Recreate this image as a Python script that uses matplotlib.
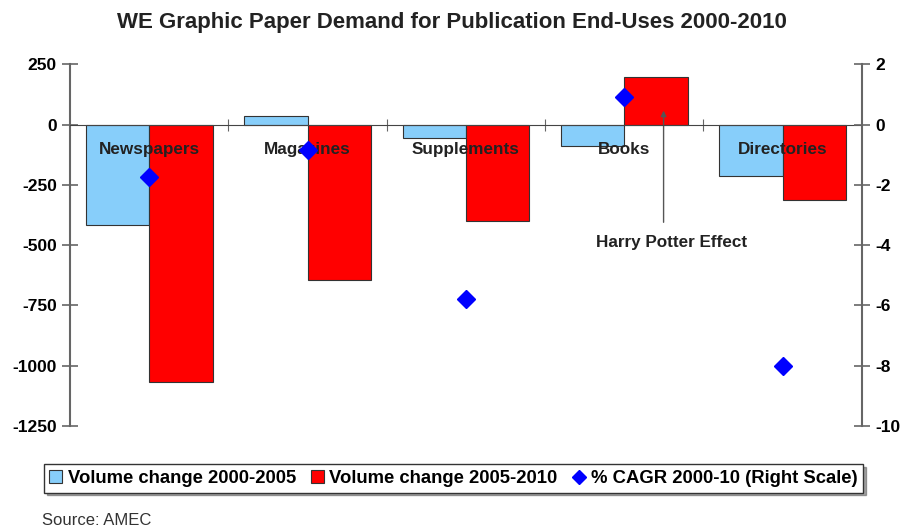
import numpy as np
import matplotlib.pyplot as plt

plt.rcParams['font.family'] = ['Liberation Sans', 'DejaVu Sans']

# datos
categorias = ['Newspapers', 'Magazines', 'Supplements', 'Books', 'Directories']
vol_2000_2005 = [-418, 34, -57, -90, -215]
vol_2005_2010 = [-1068, -643, -400, 198, -313]
cagr_2000_10 = [-1.73, -0.84, -5.8, 0.93, -8.0]
ticks_izq = [250, 0, -250, -500, -750, -1000, -1250]
ticks_der = [2, 0, -2, -4, -6, -8, -10]

fig = plt.figure(figsize=(9.04, 5.26), dpi=100)
ax = fig.add_axes([0.0774, 0.190, 0.876, 0.6877])
x = np.arange(len(categorias))
w = 0.4

b1 = ax.bar(x - w / 2, vol_2000_2005, w, color='#87CEFA', edgecolor='#333333', linewidth=0.8, zorder=2)
b2 = ax.bar(x + w / 2, vol_2005_2010, w, color='#FF0000', edgecolor='#333333', linewidth=0.8, zorder=2)

ax.set_xlim(-0.5, len(categorias) - 0.5)
ax.set_ylim(-1250, 250)
ax.set_yticks(ticks_izq)
ax.set_yticklabels([str(t) for t in ticks_izq], fontweight='bold', fontsize=12.5)

# eje x en cero, marcas entre categorias
ax.spines['top'].set_visible(False)
ax.spines['right'].set_visible(False)
ax.spines['bottom'].set_position(('data', 0))
ax.spines['bottom'].set_color('#444444')
ax.spines['bottom'].set_zorder(3)
ax.spines['left'].set_color('#666666')
ax.spines['left'].set_linewidth(1.5)
ax.set_xticks(x[:-1] + 0.5)
ax.set_xticklabels([])
ax.tick_params(axis='x', direction='inout', length=8, color='#666666')
ax.tick_params(axis='y', direction='inout', length=11, color='#666666', width=1.2, pad=4)

for i, c in enumerate(categorias):
    ax.text(i, -105, c, ha='center', va='center', fontsize=12.3, fontweight='bold', color='#222222', zorder=4)

ax2 = ax.twinx()
ax2.set_ylim(-10, 2)
ax2.set_yticks(ticks_der)
ax2.set_yticklabels([str(t) for t in ticks_der], fontweight='bold', fontsize=12.5)
for s in ['top', 'bottom', 'left']:
    ax2.spines[s].set_visible(False)
ax2.spines['right'].set_color('#666666')
ax2.spines['right'].set_linewidth(1.5)
ax2.tick_params(axis='y', direction='inout', length=11, color='#666666', width=1.2, pad=4)
sc, = ax2.plot(x, cagr_2000_10, linestyle='none', marker='D', color='#0000FF', markersize=9, zorder=5)

# anotacion
ax.annotate('', xy=(3.248, 58), xytext=(3.248, -405),
            arrowprops=dict(arrowstyle='-|>', color='#555555', lw=1, mutation_scale=8, shrinkA=0, shrinkB=0))
ax.text(3.30, -488, 'Harry Potter Effect', ha='center', va='center', fontsize=12.3, fontweight='bold', color='#222222')

fig.text(0.5, 0.958, 'WE Graphic Paper Demand for Publication End-Uses 2000-2010',
         ha='center', va='center', fontsize=16, fontweight='bold', color='#222222')

leg = fig.legend([b1, b2, sc], ['Volume change 2000-2005', 'Volume change 2005-2010', '% CAGR 2000-10 (Right Scale)'],
                 loc='center', bbox_to_anchor=(0.5017, 0.0903), ncol=3, frameon=True, fancybox=False, shadow=True,
                 prop={'weight': 'bold', 'size': 13.3}, handlelength=0.7, handletextpad=0.3, columnspacing=0.8,
                 borderpad=0.3, markerscale=0.8, handleheight=0.7)
leg.get_frame().set_edgecolor('#333333')
leg.get_frame().set_linewidth(1)

fig.text(0.046, 0.011, 'Source: AMEC', ha='left', va='center', fontsize=12, color='#333333')

plt.savefig('out.png', format='png')
